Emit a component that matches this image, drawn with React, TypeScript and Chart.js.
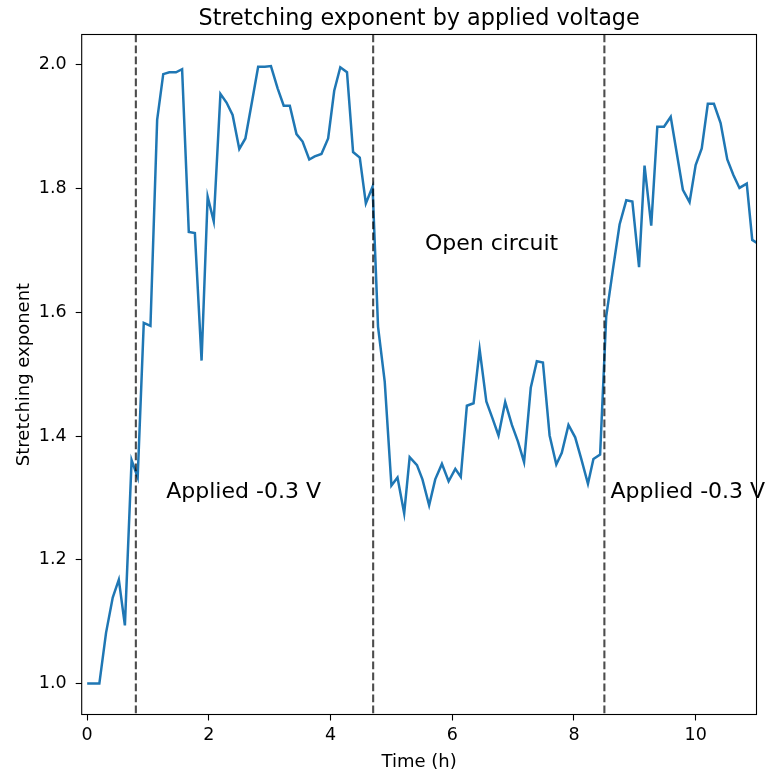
import React, { useEffect, useRef } from "react";
import { Chart, registerables } from "chart.js";

Chart.register(...registerables);

// Measurement times (hours)
const timeH: number[] = [
  0, 0.1, 0.2, 0.31, 0.42, 0.52, 0.62, 0.73, 0.83, 0.93, 1.04,
  1.15, 1.25, 1.35, 1.46, 1.56, 1.67, 1.77, 1.88, 1.98, 2.08,
  2.19, 2.29, 2.39, 2.5, 2.6, 2.71, 2.81, 2.92, 3.02, 3.13,
  3.23, 3.33, 3.44, 3.54, 3.65, 3.74, 3.85, 3.96, 4.06, 4.16,
  4.27, 4.37, 4.48, 4.58, 4.69, 4.78, 4.89, 5.0, 5.1, 5.21,
  5.3, 5.42, 5.51, 5.62, 5.72, 5.83, 5.94, 6.05, 6.14, 6.24,
  6.35, 6.45, 6.56, 6.66, 6.76, 6.87, 6.98, 7.08, 7.18, 7.29,
  7.39, 7.49, 7.6, 7.71, 7.8, 7.91, 8.02, 8.12, 8.23, 8.32,
  8.43, 8.53, 8.64, 8.75, 8.86, 8.96, 9.07, 9.16, 9.27, 9.37,
  9.48, 9.59, 9.69, 9.79, 9.9, 10.0, 10.1, 10.2, 10.3, 10.41,
  10.52, 10.62, 10.72, 10.84, 10.93, 11.04,
];

// Fitted stretching exponent at each time
const stretchExp: number[] = [
  1.0, 1.0, 1.0, 1.082, 1.139, 1.168, 1.094, 1.361, 1.333, 1.583, 1.578,
  1.911, 1.985, 1.988, 1.988, 1.993, 1.73, 1.728, 1.522, 1.787, 1.747,
  1.953, 1.939, 1.919, 1.864, 1.881, 1.941, 1.997, 1.997, 1.998, 1.962,
  1.934, 1.934, 1.888, 1.876, 1.847, 1.852, 1.856, 1.881, 1.958, 1.996,
  1.988, 1.859, 1.85, 1.776, 1.803, 1.577, 1.488, 1.32, 1.333, 1.275,
  1.366, 1.353, 1.33, 1.288, 1.33, 1.355, 1.327, 1.347, 1.334, 1.449,
  1.453, 1.54, 1.456, 1.429, 1.401, 1.455, 1.418, 1.391, 1.358, 1.478,
  1.521, 1.519, 1.401, 1.354, 1.373, 1.418, 1.398, 1.363, 1.323, 1.363,
  1.37, 1.593, 1.669, 1.742, 1.781, 1.779, 1.673, 1.837, 1.74, 1.9,
  1.9, 1.916, 1.857, 1.798, 1.778, 1.838, 1.865, 1.937, 1.937, 1.906,
  1.847, 1.822, 1.801, 1.808, 1.717, 1.71,
];

// Times at which the electrical condition was switched
const switchTimes: number[] = [0.8, 4.7, 8.5];

// Phase labels: text, x (h), y (exponent)
const phaseText: string[] = ["Applied -0.3 V", "Open circuit", "Applied -0.3 V"];
const phaseX: number[] = [1.3, 5.55, 8.6];
const phaseY: number[] = [1.3, 1.7, 1.3];

const xTicks: number[] = [0, 2, 4, 6, 8, 10];
const yTicks: number[] = [1.0, 1.2, 1.4, 1.6, 1.8, 2.0];

const TITLE = "Stretching exponent by applied voltage";
const X_LABEL = "Time (h)";
const Y_LABEL = "Stretching exponent";
const FONT = "'DejaVu Sans', sans-serif";

const W = 766;
const H = 774;

const decorPlugin = {
  id: "decor",
  afterDatasetsDraw(chart: any) {
    const { ctx, chartArea, scales } = chart;
    const xs = scales.x;
    const ys = scales.y;
    ctx.save();
    // switch markers
    ctx.strokeStyle = "rgba(0,0,0,0.7)";
    ctx.lineWidth = 2.1;
    ctx.setLineDash([7.7, 3.3]);
    for (const t of switchTimes) {
      const px = xs.getPixelForValue(t);
      ctx.beginPath();
      ctx.moveTo(px, chartArea.top);
      ctx.lineTo(px, chartArea.bottom);
      ctx.stroke();
    }
    ctx.setLineDash([]);
    // frame
    ctx.strokeStyle = "#000";
    ctx.lineWidth = 1.1;
    ctx.strokeRect(
      chartArea.left,
      chartArea.top,
      chartArea.right - chartArea.left,
      chartArea.bottom - chartArea.top
    );
    // phase labels
    ctx.fillStyle = "#000";
    ctx.font = `22px ${FONT}`;
    ctx.textAlign = "left";
    ctx.textBaseline = "alphabetic";
    phaseText.forEach((txt, i) => {
      ctx.fillText(txt, xs.getPixelForValue(phaseX[i]), ys.getPixelForValue(phaseY[i]));
    });
    // title
    const cx = (chartArea.left + chartArea.right) / 2;
    ctx.textAlign = "center";
    ctx.font = `22.3px ${FONT}`;
    ctx.fillText(TITLE, cx, 25);
    // axis titles
    ctx.font = `18px ${FONT}`;
    ctx.fillText(X_LABEL, cx, 767);
    ctx.translate(28.5, (chartArea.top + chartArea.bottom) / 2);
    ctx.rotate(-Math.PI / 2);
    ctx.fillText(Y_LABEL, 0, 0);
    ctx.restore();
  },
};

export default function App() {
  const canvasRef = useRef<HTMLCanvasElement | null>(null);

  useEffect(() => {
    const canvas = canvasRef.current;
    if (!canvas) return;
    const points = timeH.map((t, i) => ({ x: t, y: stretchExp[i] }));
    const chart = new Chart(canvas, {
      type: "line",
      data: {
        datasets: [
          {
            data: points,
            borderColor: "#1f77b4",
            borderWidth: 2.5,
            pointRadius: 0,
            tension: 0,
            fill: false,
          },
        ],
      },
      options: {
        animation: false,
        responsive: false,
        devicePixelRatio: 1,
        layout: { padding: { top: 34.5, right: 9.5, left: 0, bottom: 0 } },
        plugins: {
          legend: { display: false },
          tooltip: { enabled: false },
          title: { display: false },
        },
        scales: {
          x: {
            type: "linear",
            min: -0.09,
            max: 11,
            afterBuildTicks: (scale: any) => {
              scale.ticks = xTicks.map((v) => ({ value: v }));
            },
            afterFit: (scale: any) => {
              scale.height = H - 714.5;
            },
            ticks: {
              color: "#000",
              font: { family: FONT, size: 17.5 },
              padding: 4,
              maxRotation: 0,
              autoSkip: false,
              callback: (v: any) => String(v),
            },
            grid: {
              display: true,
              drawOnChartArea: false,
              drawTicks: true,
              tickLength: 6,
              tickColor: "#000",
              tickWidth: 1.1,
            },
            border: { display: false },
          },
          y: {
            type: "linear",
            min: 0.95,
            max: 2.049,
            afterBuildTicks: (scale: any) => {
              scale.ticks = yTicks.map((v) => ({ value: v }));
            },
            afterFit: (scale: any) => {
              scale.width = 81.7;
            },
            ticks: {
              color: "#000",
              font: { family: FONT, size: 17.5 },
              padding: 9,
              autoSkip: false,
              callback: (v: any) => Number(v).toFixed(1),
            },
            grid: {
              display: true,
              drawOnChartArea: false,
              drawTicks: true,
              tickLength: 6,
              tickColor: "#000",
              tickWidth: 1.1,
            },
            border: { display: false },
          },
        },
      },
      plugins: [decorPlugin],
    });
    return () => chart.destroy();
  }, []);

  return (
    <div style={{ position: "absolute", left: 0, top: 0, width: W, height: H, background: "#fff" }}>
      <canvas ref={canvasRef} width={W} height={H} style={{ width: W, height: H, display: "block" }} />
    </div>
  );
}
